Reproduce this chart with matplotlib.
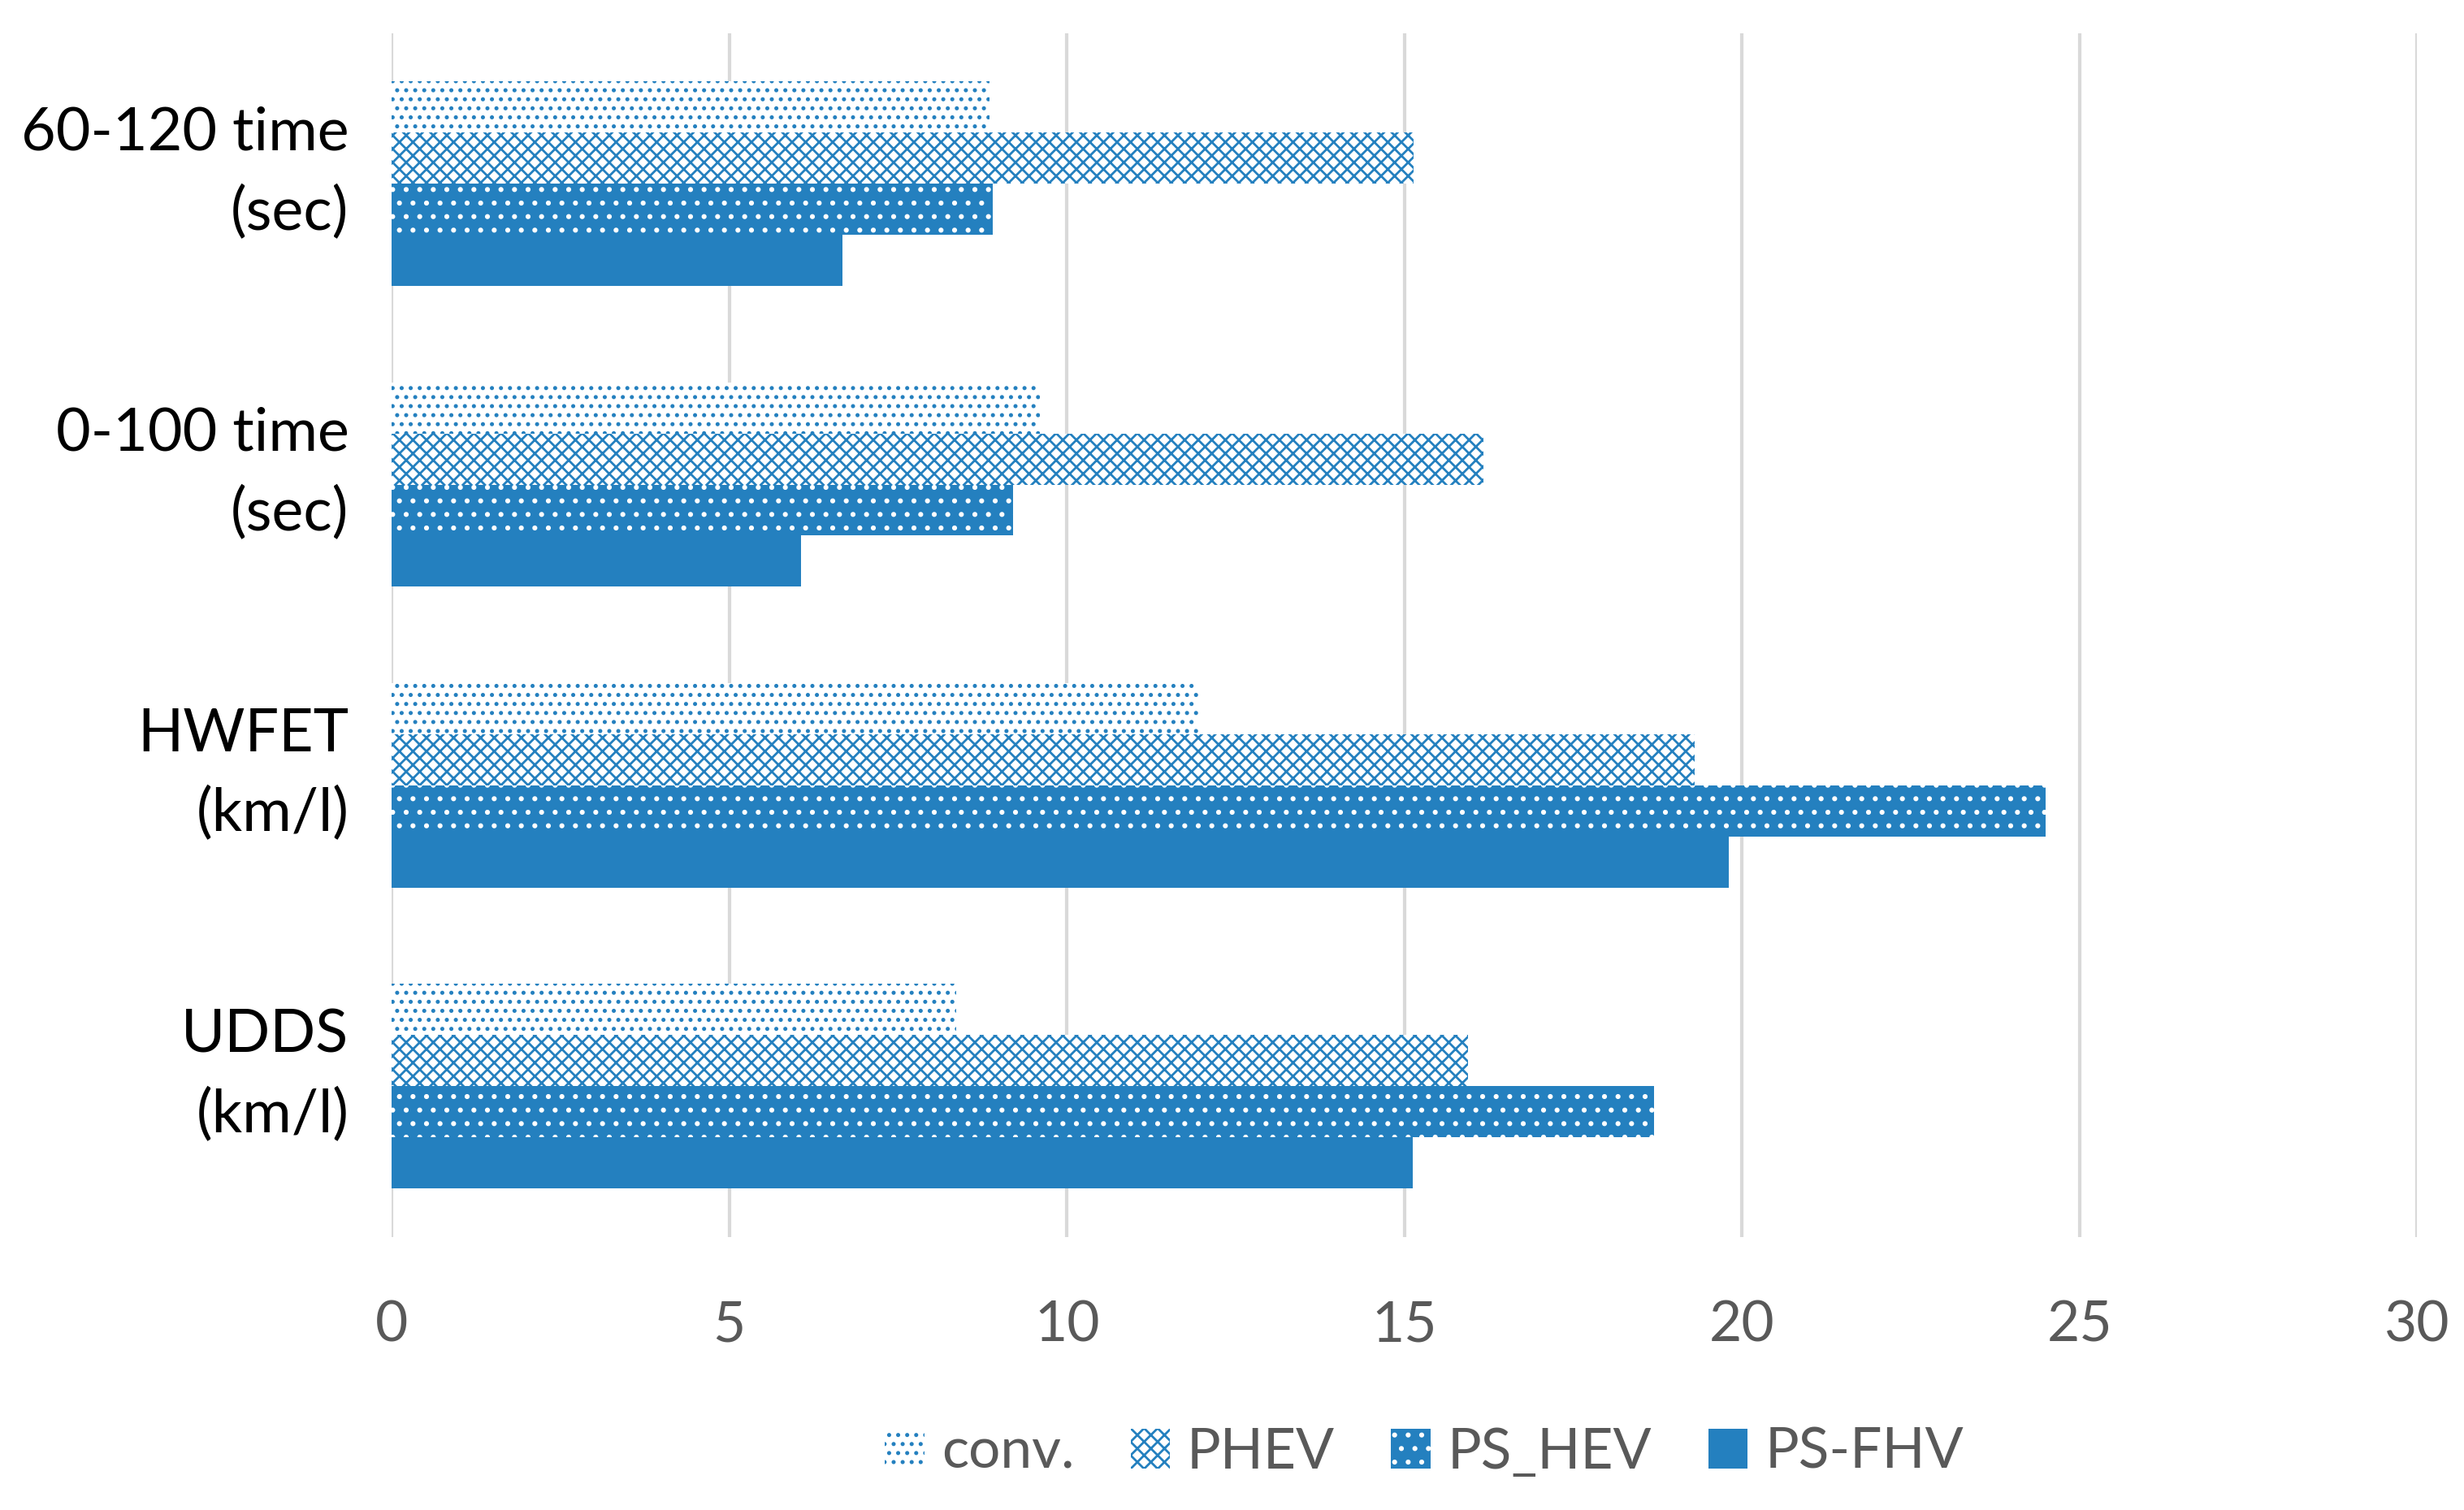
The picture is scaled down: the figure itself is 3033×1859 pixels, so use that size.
import matplotlib.pyplot as plt
import matplotlib.transforms as mtransforms
import numpy as np

plt.rcParams['font.family'] = ['Lato', 'DejaVu Sans']
plt.rcParams['hatch.linewidth'] = 1.0

# Data
categories = ['UDDS\n(km/l)', 'HWFET\n(km/l)', '0-100 time\n(sec)', '60-120 time\n(sec)']
series = ['conv.', 'PHEV', 'PS_HEV', 'PS-FHV']
conv = [8.36, 11.94, 9.6, 8.85]
phev = [15.94, 19.3, 16.17, 15.14]
ps_hev = [18.7, 24.5, 9.2, 8.9]
ps_fhv = [15.12, 19.8, 6.06, 6.67]
values = [conv, phev, ps_hev, ps_fhv]

blue = '#2480BF'
styles = [
    dict(facecolor='white', edgecolor=blue, hatch='...'),
    dict(facecolor='white', edgecolor=blue, hatch='xxxx'),
    dict(facecolor=blue, edgecolor='white', hatch='..'),
    dict(facecolor=blue, edgecolor=blue, hatch=None),
]

fig = plt.figure(figsize=(15.165, 9.295), dpi=200)
ax = fig.add_axes([0.159, 0.181, 0.822, 0.797])

y = np.arange(len(categories))
h = 0.17
for i, (name, vals, st) in enumerate(zip(series, values, styles)):
    offset = (1.5 - i) * h
    ax.barh(y + offset, vals, height=h, label=name, linewidth=0, **st)

ax.set_xlim(0, 30)
ax.set_ylim(-0.5, 3.5)
ax.set_xticks(np.arange(0, 31, 5))
ax.set_yticks(y)
ax.set_yticklabels(categories, fontsize=26.5, color='black', linespacing=1.55)
ax.tick_params(axis='x', labelsize=25, labelcolor='#595959', length=0, pad=28)
ax.tick_params(axis='y', length=0, pad=19)
# lift the category labels a little, as in the original
shift = mtransforms.ScaledTranslation(0, 12.5 / 72, fig.dpi_scale_trans)
for lab in ax.get_yticklabels():
    lab.set_transform(lab.get_transform() + shift)
ax.grid(axis='x', color='#D9D9D9', linewidth=1.5)
ax.set_axisbelow(True)
for s in ax.spines.values():
    s.set_visible(False)

fig.legend(loc='center', bbox_to_anchor=(0.578, 0.038), ncol=4, frameon=False,
           fontsize=25, labelcolor='#595959', handlelength=0.7, handleheight=0.7,
           handletextpad=0.3, columnspacing=1.0)

fig.savefig('out.png', dpi=200)
